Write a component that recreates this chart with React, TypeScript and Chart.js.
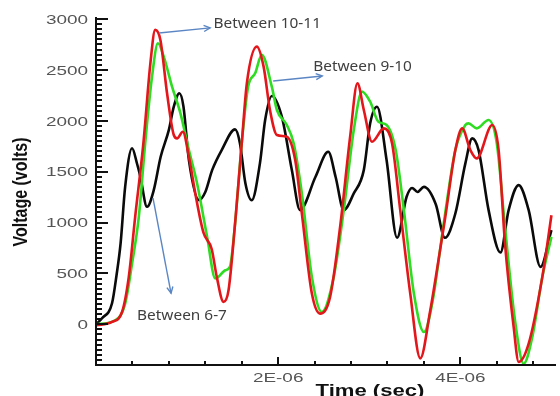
import React, { useEffect, useRef } from "react";
import { Chart, registerables } from "chart.js";

Chart.register(...registerables);

// Time values in microseconds, voltages in volts
const TIME_6_7 = [0, 0.066, 0.176, 0.225, 0.27, 0.32, 0.396, 0.45, 0.487, 0.56, 0.634, 0.71, 0.8, 0.854, 0.915, 0.96, 1.02, 1.13, 1.2, 1.275, 1.38, 1.527, 1.58, 1.64, 1.71, 1.8, 1.857, 1.93, 2.04, 2.15, 2.24, 2.41, 2.55, 2.63, 2.72, 2.83, 2.94, 3.01, 3.085, 3.19, 3.305, 3.41, 3.47, 3.53, 3.6, 3.73, 3.83, 3.945, 4.055, 4.13, 4.2, 4.31, 4.44, 4.53, 4.64, 4.75, 4.88, 5.0];
const VOLT_6_7 = [0, 59, 207, 480, 795, 1350, 1730, 1580, 1450, 1155, 1318, 1646, 1910, 2138, 2270, 2140, 1614, 1220, 1300, 1515, 1712, 1915, 1780, 1387, 1220, 1584, 2007, 2243, 2040, 1515, 1122, 1450, 1695, 1450, 1122, 1286, 1515, 1975, 2138, 1614, 850, 1253, 1340, 1300, 1350, 1180, 850, 1089, 1581, 1827, 1712, 1122, 705, 1122, 1368, 1122, 564, 925];

const TIME_9_10 = [0, 0.21, 0.32, 0.396, 0.47, 0.54, 0.615, 0.68, 0.744, 0.835, 0.927, 1.02, 1.11, 1.22, 1.31, 1.42, 1.47, 1.527, 1.6, 1.67, 1.747, 1.82, 1.93, 1.986, 2.095, 2.17, 2.26, 2.37, 2.48, 2.61, 2.72, 2.83, 2.92, 3.01, 3.1, 3.19, 3.29, 3.38, 3.49, 3.6, 3.7, 3.78, 3.835, 3.945, 4.055, 4.09, 4.18, 4.31, 4.4, 4.49, 4.6, 4.695, 4.79, 4.9, 5.0];
const VOLT_9_10 = [0, 39, 203, 597, 1056, 1778, 2433, 2762, 2630, 2335, 2073, 1712, 1384, 859, 450, 531, 564, 991, 1778, 2335, 2466, 2647, 2335, 2106, 1958, 1778, 1286, 466, 121, 466, 1122, 1909, 2286, 2187, 1990, 1958, 1712, 1122, 302, -75, 250, 750, 1100, 1712, 1958, 1974, 1925, 2007, 1778, 958, 39, -387, -125, 466, 859];

const TIME_10_11 = [0, 0.176, 0.286, 0.36, 0.43, 0.52, 0.597, 0.65, 0.707, 0.78, 0.854, 0.89, 0.953, 1.02, 1.09, 1.18, 1.27, 1.326, 1.4, 1.455, 1.527, 1.6, 1.656, 1.766, 1.84, 1.91, 1.986, 2.095, 2.187, 2.26, 2.37, 2.46, 2.57, 2.68, 2.79, 2.87, 2.94, 3.03, 3.16, 3.25, 3.34, 3.45, 3.56, 3.67, 3.725, 3.835, 3.945, 4.02, 4.11, 4.18, 4.35, 4.42, 4.49, 4.585, 4.64, 4.75, 4.9, 5.0];
const VOLT_10_11 = [-10, 23, 121, 466, 1056, 1778, 2565, 2893, 2794, 2270, 1860, 1827, 1892, 1646, 1286, 900, 740, 466, 220, 335, 991, 1778, 2368, 2729, 2532, 2106, 1860, 1843, 1614, 1089, 302, 105, 269, 958, 1843, 2368, 2106, 1794, 1925, 1778, 1122, 302, -335, 138, 433, 1056, 1712, 1925, 1712, 1630, 1958, 1712, 794, -26, -370, -190, 466, 1072];

const Y_MIN = -400;
const Y_MAX = 3000;
const Y_MAJOR_STEP = 500;
const Y_MINOR_STEP = 50;
const Y_TICK_VALUES = [0, 500, 1000, 1500, 2000, 2500, 3000];
const Y_TICK_LABELS = ["0", "500", "1000", "1500", "2000", "2500", "3000"];

const X_MIN = 0;
const X_MAX = 5.05e-6;
const X_MINOR_STEP = 0.4e-6;
const X_TICK_VALUES = [2e-6, 4e-6];
const X_TICK_LABELS = ["2E-06", "4E-06"];

const X_TITLE = "Time (sec)";
const Y_TITLE = "Voltage (volts)";

// Annotations: [label, arrow start t(us), arrow start V, arrow end t(us), arrow end V, text t(us), text baseline V]
const ANNOTATIONS: [string, number, number, number, number, number, number][] = [
  ["Between 10-11", 0.692, 2863, 1.253, 2913, 1.29, 2910],
  ["Between 9-10", 1.945, 2391, 2.484, 2440, 2.385, 2493],
  ["Between 6-7", 0.626, 1240, 0.824, 305, 0.451, 39],
];

const toPoints = (t: number[], v: number[]) => t.map((tt, i) => ({ x: tt * 1e-6, y: v[i] }));

const paperPlugin = {
  id: "paperAxes",
  afterDraw(chart: any) {
    const { ctx, chartArea: a, scales } = chart;
    const xs = scales.x;
    const ys = scales.y;
    ctx.save();
    // axis lines
    ctx.strokeStyle = "#111";
    ctx.lineWidth = 2;
    ctx.beginPath();
    ctx.moveTo(a.left, a.top - 2);
    ctx.lineTo(a.left, a.bottom);
    ctx.lineTo(a.right, a.bottom);
    ctx.stroke();
    // y ticks
    ctx.lineWidth = 2;
    for (let k = 0; Y_MIN + k * Y_MINOR_STEP <= Y_MAX + 1e-6; k++) {
      const v = Y_MIN + k * Y_MINOR_STEP;
      const py = Math.round(ys.getPixelForValue(v));
      const major = Math.abs(v % Y_MAJOR_STEP) < 1e-6;
      ctx.beginPath();
      ctx.moveTo(a.left, py);
      ctx.lineTo(a.left + (major ? 12 : 6), py);
      ctx.stroke();
    }
    // x ticks
    for (let k = 1; X_MIN + k * X_MINOR_STEP <= X_MAX; k++) {
      const t = X_MIN + k * X_MINOR_STEP;
      const px = Math.round(xs.getPixelForValue(t));
      const major = X_TICK_VALUES.some((m) => Math.abs(m - t) < 1e-9);
      ctx.beginPath();
      ctx.moveTo(px, a.bottom);
      ctx.lineTo(px, a.bottom - (major ? 8 : 4));
      ctx.stroke();
    }
    // tick labels
    ctx.fillStyle = "#555";
    ctx.font = '13.5px "Liberation Sans", Arial, sans-serif';
    ctx.textBaseline = "alphabetic";
    Y_TICK_VALUES.forEach((v, i) => {
      const py = ys.getPixelForValue(v);
      ctx.save();
      ctx.translate(a.left - 8, py + 4.8);
      ctx.scale(1.4, 1);
      ctx.textAlign = "right";
      ctx.fillText(Y_TICK_LABELS[i], 0, 0);
      ctx.restore();
    });
    X_TICK_VALUES.forEach((t, i) => {
      const px = xs.getPixelForValue(t);
      ctx.save();
      ctx.translate(px, a.bottom + 16.5);
      ctx.scale(1.4, 1);
      ctx.textAlign = "center";
      ctx.fillText(X_TICK_LABELS[i], 0, 0);
      ctx.restore();
    });
    // axis titles
    ctx.fillStyle = "#111";
    ctx.font = 'bold 17px "Liberation Sans", Arial, sans-serif';
    ctx.save();
    ctx.translate((a.left + a.right) / 2 + 44, a.bottom + 30.5);
    ctx.scale(1.3, 1);
    ctx.textAlign = "center";
    ctx.fillText(X_TITLE, 0, 0);
    ctx.restore();
    ctx.font = 'bold 16px "Liberation Sans", Arial, sans-serif';
    ctx.save();
    ctx.translate(27, (a.top + a.bottom) / 2);
    ctx.rotate(-Math.PI / 2);
    ctx.scale(1, 1.25);
    ctx.textAlign = "center";
    ctx.fillText(Y_TITLE, 0, 0);
    ctx.restore();
    // annotations
    ANNOTATIONS.forEach(([label, t0, v0, t1, v1, tt, vt]) => {
      const x0 = xs.getPixelForValue(t0 * 1e-6);
      const y0 = ys.getPixelForValue(v0);
      const x1 = xs.getPixelForValue(t1 * 1e-6);
      const y1 = ys.getPixelForValue(v1);
      ctx.strokeStyle = "#5b86c4";
      ctx.lineWidth = 1.4;
      ctx.beginPath();
      ctx.moveTo(x0, y0);
      ctx.lineTo(x1, y1);
      ctx.stroke();
      const ang = Math.atan2(y1 - y0, x1 - x0);
      const hl = 7;
      ctx.beginPath();
      ctx.moveTo(x1 - hl * Math.cos(ang - 0.45), y1 - hl * Math.sin(ang - 0.45));
      ctx.lineTo(x1, y1);
      ctx.lineTo(x1 - hl * Math.cos(ang + 0.45), y1 - hl * Math.sin(ang + 0.45));
      ctx.stroke();
      ctx.fillStyle = "#404040";
      ctx.font = '14px "Noto Sans", sans-serif';
      ctx.save();
      ctx.translate(xs.getPixelForValue(tt * 1e-6), ys.getPixelForValue(vt));
      ctx.scale(1.1, 1);
      ctx.textAlign = "left";
      ctx.fillText(label, 0, 0);
      ctx.restore();
    });
    ctx.restore();
  },
};

export default function App() {
  const ref = useRef<HTMLCanvasElement | null>(null);
  useEffect(() => {
    if (!ref.current) return;
    const line = (label: string, t: number[], v: number[], color: string) => ({
      label,
      data: toPoints(t, v),
      borderColor: color,
      backgroundColor: color,
      borderWidth: 2.6,
      pointRadius: 0,
      fill: false,
      cubicInterpolationMode: "monotone" as const,
    });
    const chart = new Chart(ref.current, {
      type: "line",
      data: {
        datasets: [
          line("Between 10-11", TIME_10_11, VOLT_10_11, "#e3161b"),
          line("Between 9-10", TIME_9_10, VOLT_9_10, "#2edc22"),
          line("Between 6-7", TIME_6_7, VOLT_6_7, "#0a0a0a"),
        ],
      },
      options: {
        responsive: false,
        animation: false,
        layout: { padding: { top: 19, right: 4, left: 0, bottom: 0 } },
        plugins: { legend: { display: false }, tooltip: { enabled: false } },
        scales: {
          x: {
            type: "linear",
            min: X_MIN,
            max: X_MAX,
            grid: { display: false },
            border: { display: false },
            ticks: { display: false },
            afterFit: (s: any) => {
              s.height = 31;
            },
          },
          y: {
            type: "linear",
            min: Y_MIN,
            max: Y_MAX,
            grid: { display: false },
            border: { display: false },
            ticks: { display: false },
            afterFit: (s: any) => {
              s.width = 96;
            },
          },
        },
      },
      plugins: [paperPlugin],
    });
    return () => chart.destroy();
  }, []);
  return (
    <div style={{ position: "absolute", left: 0, top: 0, width: 560, height: 396, background: "#fff" }}>
      <canvas ref={ref} width={560} height={396} />
    </div>
  );
}
